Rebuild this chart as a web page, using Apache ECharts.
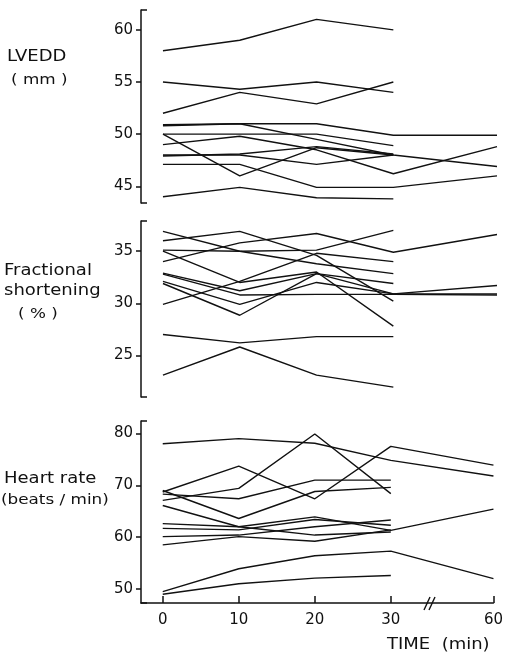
<!DOCTYPE html>
<html>
<head>
<meta charset="utf-8">
<script src="https://cdn.jsdelivr.net/npm/echarts@6/dist/echarts.min.js"></script>
<style>
html,body{margin:0;padding:0;background:#fff;}
#chart{width:506px;height:652px;}
</style>
</head>
<body>
<div id="chart"></div>
<script>
// Time points (min); the axis is broken between 30 and 60
const times = [0, 10, 20, 30, 60];
const xTickLabels = ['0', '10', '20', '30', '60'];

// LVEDD (mm) per subject
const lvedd = [
  [58, 59, 61, 60],
  [55, 54.3, 55, 54],
  [52, 54, 52.9, 55],
  [50.9, 51, 51, 49.9, 49.9],
  [50.8, 51, 49.5, 48, 46.9],
  [50, 46, 48.7, 48],
  [50, 50, 50, 48.9],
  [49, 49.8, 48.5, 46.2, 48.8],
  [48, 48, 47.1, 48],
  [47.9, 48.1, 48.8, 48.1],
  [47.1, 47.1, 44.9, 44.9, 46],
  [44, 44.9, 43.9, 43.8]
];

// Fractional shortening (%) per subject
const fracShort = [
  [36.9, 35.0, 33.8, 32.85],
  [36.0, 36.9, 34.6, 30.2],
  [35.1, 35.0, 35.1, 37.0],
  [34.0, 35.8, 36.7, 34.9, 36.6],
  [35.0, 32.0, 33.0, 27.8],
  [32.9, 31.2, 32.85, 31.9],
  [32.8, 30.8, 30.85, 30.85, 30.8],
  [32.1, 29.9, 32.0, 30.9, 30.9],
  [31.9, 28.85, 32.85, 30.9, 31.7],
  [29.9, 32.1, 34.8, 34.0],
  [27.0, 26.2, 26.8, 26.8],
  [23.1, 25.8, 23.1, 21.95]
];

// Heart rate (beats/min) per subject
const heartRate = [
  [78, 79, 78.1, 74.8, 71.8],
  [68.7, 73.7, 67.4, 77.5, 73.9],
  [67.1, 69.4, 79.9, 68.4],
  [68.3, 67.4, 71.0, 71.0],
  [69.0, 63.6, 68.8, 69.6],
  [62.6, 62.0, 63.9, 61.3, 65.4],
  [61.7, 61.4, 63.4, 62.3],
  [60.1, 60.4, 62.0, 63.3],
  [58.5, 60.1, 59.2, 61.4],
  [66.1, 62.0, 60.4, 61.0],
  [49.5, 53.9, 56.4, 57.3, 52.0],
  [49.0, 51.0, 52.1, 52.6]
];

const lveddTicks = [45, 50, 55, 60];
const fsTicks = [25, 30, 35];
const hrTicks = [50, 60, 70, 80];

// broken time axis: 30 -> 60 compressed
const BREAK_SCALE = 13.5 / 30;
function pos(t) { return t <= 30 ? t : 30 + (t - 30) * BREAK_SCALE; }
const X_MIN = -2.86, X_MAX = pos(60);

const panels = [
  {data: lvedd, ticks: lveddTicks, min: 43.4, max: 61.9, top: 10, height: 193},
  {data: fracShort, ticks: fsTicks, min: 21.0, max: 37.9, top: 221, height: 176},
  {data: heartRate, ticks: hrTicks, min: 47.3, max: 82.4, top: 421, height: 182}
];

const FONT = 'DejaVu Sans';
const grid = [], xAxis = [], yAxis = [], series = [];
panels.forEach((p, i) => {
  grid.push({left: 141, top: p.top, width: 356, height: p.height, containLabel: false});
  const isBottom = i === panels.length - 1;
  xAxis.push({
    type: 'value', gridIndex: i, min: X_MIN, max: X_MAX, show: isBottom,
    axisLine: {show: true, onZero: false, lineStyle: {color: '#111', width: 1.5}},
    axisTick: {show: true, inside: true, length: 7, customValues: times.map(pos), lineStyle: {color: '#111', width: 1.5}},
    axisLabel: {show: true, customValues: times.map(pos), margin: 10, color: '#111', fontSize: 15, fontFamily: FONT,
      formatter: v => { const k = times.map(pos).findIndex(q => Math.abs(q - v) < 1e-6); return k >= 0 ? xTickLabels[k] : ''; }},
    splitLine: {show: false}
  });
  yAxis.push({
    type: 'value', gridIndex: i, min: p.min, max: p.max, position: 'left',
    axisLine: {show: true, onZero: false, lineStyle: {color: '#111', width: 1.5}},
    axisTick: {show: true, length: 5, customValues: p.ticks, lineStyle: {color: '#111', width: 1.5}},
    axisLabel: {show: true, customValues: p.ticks, margin: 8, color: '#111', fontSize: 15, fontFamily: FONT},
    splitLine: {show: false}
  });
  // bracket ends of the y-axis
  yAxis.push({
    type: 'value', gridIndex: i, min: p.min, max: p.max, position: 'left',
    axisLine: {show: false, onZero: false},
    axisTick: {show: true, inside: true, length: 6, customValues: [p.min, p.max], lineStyle: {color: '#111', width: 1.5}},
    axisLabel: {show: false}, splitLine: {show: false}
  });
  p.data.forEach(row => {
    series.push({
      type: 'line', xAxisIndex: i, yAxisIndex: i * 2,
      data: row.map((v, k) => [pos(times[k]), v]),
      symbol: 'none', silent: true,
      lineStyle: {color: '#111', width: 1.4}
    });
  });
});

const txt = (text, x, y, size) => ({type: 'text', x, y, scaleX: 1.2,
  style: {text, fill: '#111', font: `${size || 14}px "${FONT}"`, textVerticalAlign: 'middle', verticalAlign: 'middle'}});

const chart = echarts.init(document.getElementById('chart'), null, {renderer: 'canvas'});
chart.setOption({
  animation: false,
  backgroundColor: '#fff',
  grid, xAxis, yAxis, series,
  graphic: [
    txt('LVEDD', 7, 57, 15),
    txt('( mm )', 11, 80, 14),
    txt('Fractional', 4, 271, 15),
    txt('shortening', 4, 291, 15),
    txt('( % )', 18, 314, 14),
    txt('Heart rate', 4, 479, 15),
    txt('(beats / min)', 1, 500, 14),
    txt('TIME  (min)', 387, 645, 15),
    {type: 'line', shape: {x1: 424, y1: 610, x2: 430, y2: 597}, style: {stroke: '#111', lineWidth: 1.4}},
    {type: 'line', shape: {x1: 429, y1: 610, x2: 435, y2: 597}, style: {stroke: '#111', lineWidth: 1.4}}
  ]
});
</script>
</body>
</html>
